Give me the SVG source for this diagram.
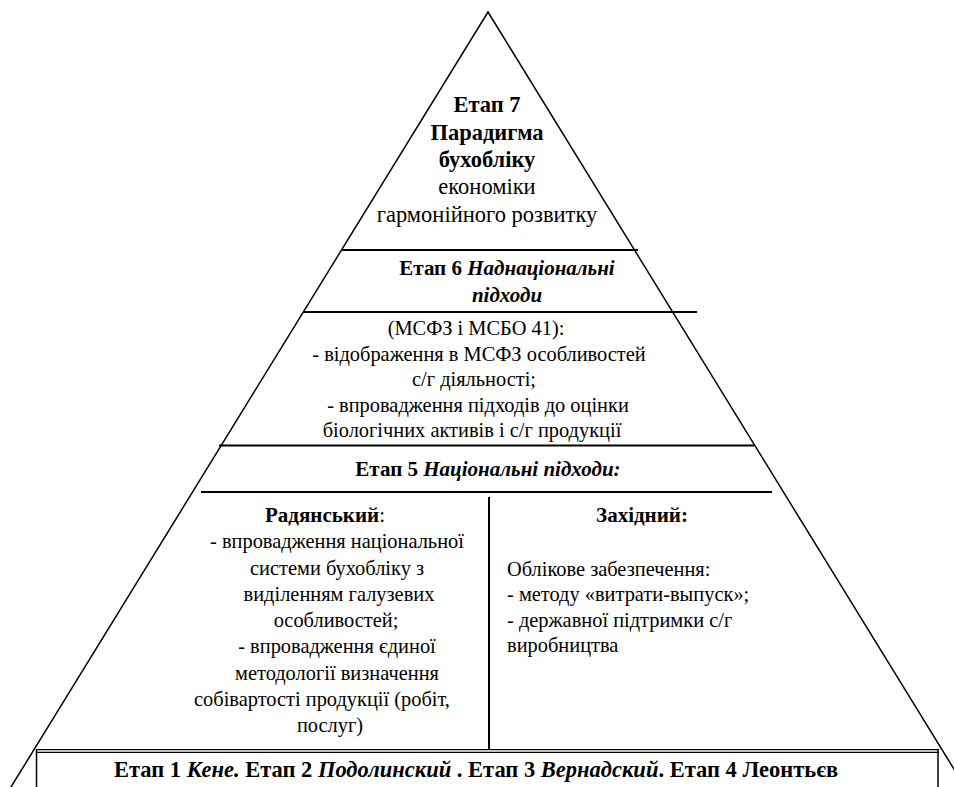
<svg xmlns="http://www.w3.org/2000/svg" width="954" height="787" viewBox="0 0 954 787">
  <rect width="954" height="787" fill="#fff"/>

  <!-- pyramid outline and tier dividers -->
  <g id="connectors" stroke="#000" fill="none">
    <polyline stroke-width="1.5" points="11,787 488,12 965,787"/>
    <g stroke-width="2">
      <line x1="342" y1="250" x2="638" y2="250"/>
      <line x1="303" y1="312" x2="697" y2="312"/>
      <line x1="219" y1="445.5" x2="754" y2="445.5"/>
      <line x1="201" y1="492" x2="772" y2="492"/>
      <line x1="489" y1="497" x2="489" y2="749"/>
    </g>
  </g>

  <!-- stage 7: apex -->
  <g id="stage7" font-size="22.5" text-anchor="middle" fill="#000">
    <text style="font-family:'Liberation Serif',serif !important" font-weight="bold" x="487" y="112">Етап 7</text>
    <text style="font-family:'Liberation Serif',serif !important" font-weight="bold" x="487" y="139.5">Парадигма</text>
    <text style="font-family:'Liberation Serif',serif !important" font-weight="bold" x="487" y="167">бухобліку</text>
    <text style="font-family:'Liberation Serif',serif !important" x="487" y="194">економіки</text>
    <text style="font-family:'Liberation Serif',serif !important" x="487" y="221.5">гармонійного розвитку</text>
  </g>

  <!-- stage 6: supranational approaches -->
  <g id="stage6" font-size="21" text-anchor="middle" font-weight="bold" fill="#000">
    <text style="font-family:'Liberation Serif',serif !important" x="507" y="275">Етап 6 <tspan font-style="italic">Наднаціональні</tspan></text>
    <text style="font-family:'Liberation Serif',serif !important" font-style="italic" x="507" y="302">підходи</text>
  </g>

  <g id="stage6-detail" font-size="20.4" text-anchor="middle" fill="#000">
    <text style="font-family:'Liberation Serif',serif !important" x="476" y="335">(МСФЗ і МСБО 41):</text>
    <text style="font-family:'Liberation Serif',serif !important" x="479" y="361">- відображення в МСФЗ особливостей</text>
    <text style="font-family:'Liberation Serif',serif !important" x="474" y="386">с/г діяльності;</text>
    <text style="font-family:'Liberation Serif',serif !important" x="478" y="412">- впровадження підходів до оцінки</text>
    <text style="font-family:'Liberation Serif',serif !important" x="472" y="437">біологічних активів і с/г продукції</text>
  </g>

  <!-- stage 5: national approaches -->
  <g id="stage5" font-size="21" text-anchor="middle" font-weight="bold" fill="#000">
    <text style="font-family:'Liberation Serif',serif !important" x="488" y="476">Етап 5 <tspan font-style="italic">Національні підходи:</tspan></text>
  </g>

  <g id="soviet" font-size="20.4" text-anchor="middle" fill="#000">
    <text style="font-family:'Liberation Serif',serif !important" font-size="21" x="325" y="522"><tspan font-weight="bold">Радянський</tspan>:</text>
    <text style="font-family:'Liberation Serif',serif !important" x="337" y="548">- впровадження національної</text>
    <text style="font-family:'Liberation Serif',serif !important" x="337" y="575">системи бухобліку з</text>
    <text style="font-family:'Liberation Serif',serif !important" x="339" y="601">виділенням галузевих</text>
    <text style="font-family:'Liberation Serif',serif !important" x="336" y="627">особливостей;</text>
    <text style="font-family:'Liberation Serif',serif !important" x="337" y="653">- впровадження єдиної</text>
    <text style="font-family:'Liberation Serif',serif !important" x="337" y="680">методології визначення</text>
    <text style="font-family:'Liberation Serif',serif !important" x="322" y="706">собівартості продукції (робіт,</text>
    <text style="font-family:'Liberation Serif',serif !important" x="330" y="732">послуг)</text>
  </g>

  <g id="western" font-size="20.4" fill="#000">
    <text style="font-family:'Liberation Serif',serif !important" font-size="21" font-weight="bold" text-anchor="middle" x="642" y="522">Західний:</text>
    <text style="font-family:'Liberation Serif',serif !important" x="507" y="576">Облікове забезпечення:</text>
    <text style="font-family:'Liberation Serif',serif !important" x="507" y="601">- методу «витрати-выпуск»;</text>
    <text style="font-family:'Liberation Serif',serif !important" x="507" y="627">- державної підтримки с/г</text>
    <text style="font-family:'Liberation Serif',serif !important" x="507" y="652">виробництва</text>
  </g>

  <!-- stages 1-4: base block with double top rule -->
  <g id="base">
    <rect x="36" y="749" width="902" height="40" fill="#fff"/>
    <line x1="36" y1="749.5" x2="939" y2="749.5" stroke="#000" stroke-width="1.2"/>
    <line x1="36" y1="751" x2="939" y2="751" stroke="#aaa" stroke-width="1.6"/>
    <line x1="36" y1="752.5" x2="939" y2="752.5" stroke="#000" stroke-width="1.2"/>
    <line x1="36.5" y1="749" x2="36.5" y2="787" stroke="#000" stroke-width="1.5"/>
    <line x1="938" y1="749" x2="938" y2="787" stroke="#000" stroke-width="1.5"/>
    <text style="font-family:'Liberation Serif',serif !important" font-size="22.5" font-weight="bold" text-anchor="middle" fill="#000" x="476" y="777">Етап 1 <tspan font-style="italic">Кене.</tspan> Етап 2 <tspan font-style="italic">Подолинский </tspan>. Етап 3 <tspan font-style="italic">Вернадский</tspan>. Етап 4 Леонтьєв</text>
  </g>
</svg>
